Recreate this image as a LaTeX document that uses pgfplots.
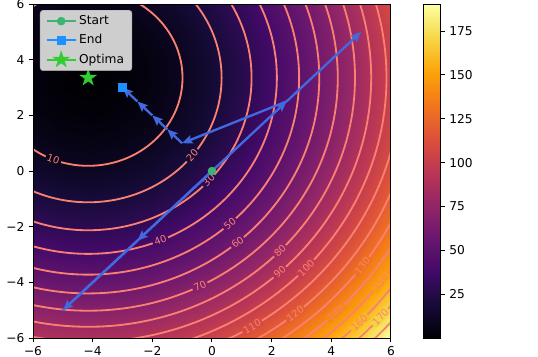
\documentclass[border=0pt]{standalone}
\usepackage{fontspec}
\setmainfont{DejaVu Sans}
\usepackage{pgfplots}
\pgfplotsset{compat=1.18}
\usetikzlibrary{arrows.meta,calc}

\definecolor{salmon}{HTML}{FA8072}
\definecolor{royalblue}{HTML}{4169E1}
\definecolor{mediumseagreen}{HTML}{3CB371}
\definecolor{dodgerblue}{HTML}{1E90FF}
\definecolor{limegreen}{HTML}{32CD32}
% heatmap colour under each contour label (fills the gap in the line)
\definecolor{l10}{RGB}{12,6,32}
\definecolor{l20}{RGB}{24,11,59}
\definecolor{l30}{RGB}{47,10,84}
\definecolor{l40}{RGB}{70,11,105}
\definecolor{l50}{RGB}{91,18,108}
\definecolor{l60}{RGB}{112,25,109}
\definecolor{l70}{RGB}{134,33,105}
\definecolor{l80}{RGB}{155,41,99}
\definecolor{l90}{RGB}{177,50,89}
\definecolor{l100}{RGB}{196,62,78}
\definecolor{l110}{RGB}{214,75,64}
\definecolor{l120}{RGB}{228,93,48}
\definecolor{l130}{RGB}{239,113,31}
\definecolor{l140}{RGB}{246,136,20}
\definecolor{l150}{RGB}{251,159,12}
\definecolor{l160}{RGB}{250,185,34}
\definecolor{l170}{RGB}{246,211,66}

% filled five-pointed star
\pgfdeclareplotmark{fstar}{%
  \pgfpathmoveto{\pgfpointpolar{90}{\pgfplotmarksize}}%
  \pgfpathlineto{\pgfpointpolar{126}{0.382\pgfplotmarksize}}%
  \pgfpathlineto{\pgfpointpolar{162}{\pgfplotmarksize}}%
  \pgfpathlineto{\pgfpointpolar{198}{0.382\pgfplotmarksize}}%
  \pgfpathlineto{\pgfpointpolar{234}{\pgfplotmarksize}}%
  \pgfpathlineto{\pgfpointpolar{270}{0.382\pgfplotmarksize}}%
  \pgfpathlineto{\pgfpointpolar{306}{\pgfplotmarksize}}%
  \pgfpathlineto{\pgfpointpolar{342}{0.382\pgfplotmarksize}}%
  \pgfpathlineto{\pgfpointpolar{18}{\pgfplotmarksize}}%
  \pgfpathlineto{\pgfpointpolar{54}{0.382\pgfplotmarksize}}%
  \pgfpathclose
  \pgfusepathqfillstroke}

\pgfplotsset{
  colormap={inferno}{rgb255=(0,0,4) rgb255=(22,11,57) rgb255=(66,10,104)
    rgb255=(106,23,110) rgb255=(147,38,103) rgb255=(188,55,84) rgb255=(221,81,58)
    rgb255=(243,120,25) rgb255=(252,165,10) rgb255=(246,215,70) rgb255=(252,255,164)},
  /pgf/number format/assume math mode=true,
}

\tikzset{lab/.style={text=salmon, font=\fontsize{8}{9}\selectfont, inner xsep=1.5pt, inner ysep=0.3pt}}

\begin{document}
\begin{tikzpicture}
\begin{axis}[
    name=main,
    scale only axis,
    width=293.4pt, height=273.8pt,
    xmin=-6, xmax=6, ymin=-6, ymax=6,
    enlargelimits=false,
    axis on top,
    colormap name=inferno,
    xtick={-6,-4,-2,0,2,4,6},
    xticklabels={−6,−4,−2,0,2,4,6},
    ytick={-6,-4,-2,0,2,4,6},
    yticklabels={−6,−4,−2,0,2,4,6},
    tick pos=left,
    tick align=outside,
    major tick length=3.5pt,
    tick style={black, line width=0.8pt},
    axis line style={line width=0.8pt},
    colorbar,
    colorbar style={
        at={(main.north east)}, anchor=north west, xshift=18pt,
        scale only axis, width=14.2pt, height=273.8pt,
        ytick={25,50,75,100,125,150,175},
        ytick pos=right, yticklabel pos=right,
        tick align=outside, major tick length=3.5pt,
        tick style={black, line width=0.8pt},
        axis line style={line width=0.8pt},
    },
    legend style={at={(0,1)}, anchor=north west, xshift=5.7pt, yshift=-4.9pt,
        fill={rgb,255:red,206;green,206;blue,207}, draw={rgb,255:red,170;green,170;blue,170},
        rounded corners=2.5pt, inner xsep=4.5pt, inner ysep=2.5pt, row sep=2.5pt,
        font=\fontsize{10}{12}\selectfont},
    legend cell align=left,
    legend image code/.code={
        \draw[mark repeat=2, mark phase=2] plot coordinates {(0cm,0cm) (0.42cm,0cm) (0.84cm,0cm)};
    },
]

% objective on a unit grid, f = (x+4.15)^2 + (y-3.35)^2
\addplot[surf, shader=interp, forget plot, point meta=explicit, mesh/rows=13, mesh/cols=13] coordinates {
(-6,-6)[90.8] (-5,-6)[88.1] (-4,-6)[87.4] (-3,-6)[88.7] (-2,-6)[92.0] (-1,-6)[97.3] (0,-6)[104.6] (1,-6)[113.9] (2,-6)[125.2] (3,-6)[138.5] (4,-6)[153.8] (5,-6)[171.1] (6,-6)[190.4]
(-6,-5)[73.1] (-5,-5)[70.4] (-4,-5)[69.7] (-3,-5)[71.0] (-2,-5)[74.3] (-1,-5)[79.6] (0,-5)[86.9] (1,-5)[96.2] (2,-5)[107.5] (3,-5)[120.8] (4,-5)[136.1] (5,-5)[153.4] (6,-5)[172.7]
(-6,-4)[57.4] (-5,-4)[54.7] (-4,-4)[54.0] (-3,-4)[55.3] (-2,-4)[58.6] (-1,-4)[63.9] (0,-4)[71.2] (1,-4)[80.5] (2,-4)[91.8] (3,-4)[105.1] (4,-4)[120.4] (5,-4)[137.7] (6,-4)[157.0]
(-6,-3)[43.7] (-5,-3)[41.0] (-4,-3)[40.3] (-3,-3)[41.6] (-2,-3)[44.9] (-1,-3)[50.2] (0,-3)[57.5] (1,-3)[66.8] (2,-3)[78.1] (3,-3)[91.4] (4,-3)[106.7] (5,-3)[124.0] (6,-3)[143.3]
(-6,-2)[32.0] (-5,-2)[29.3] (-4,-2)[28.6] (-3,-2)[29.9] (-2,-2)[33.2] (-1,-2)[38.5] (0,-2)[45.8] (1,-2)[55.1] (2,-2)[66.4] (3,-2)[79.7] (4,-2)[95.0] (5,-2)[112.3] (6,-2)[131.6]
(-6,-1)[22.3] (-5,-1)[19.6] (-4,-1)[18.9] (-3,-1)[20.2] (-2,-1)[23.5] (-1,-1)[28.8] (0,-1)[36.1] (1,-1)[45.4] (2,-1)[56.7] (3,-1)[70.0] (4,-1)[85.3] (5,-1)[102.6] (6,-1)[121.9]
(-6,0)[14.6] (-5,0)[11.9] (-4,0)[11.2] (-3,0)[12.5] (-2,0)[15.8] (-1,0)[21.1] (0,0)[28.4] (1,0)[37.7] (2,0)[49.0] (3,0)[62.3] (4,0)[77.6] (5,0)[94.9] (6,0)[114.2]
(-6,1)[8.9] (-5,1)[6.2] (-4,1)[5.5] (-3,1)[6.8] (-2,1)[10.1] (-1,1)[15.4] (0,1)[22.7] (1,1)[32.0] (2,1)[43.3] (3,1)[56.6] (4,1)[71.9] (5,1)[89.2] (6,1)[108.5]
(-6,2)[5.2] (-5,2)[2.5] (-4,2)[1.8] (-3,2)[3.1] (-2,2)[6.4] (-1,2)[11.7] (0,2)[19.0] (1,2)[28.3] (2,2)[39.6] (3,2)[52.9] (4,2)[68.2] (5,2)[85.5] (6,2)[104.8]
(-6,3)[3.5] (-5,3)[0.8] (-4,3)[0.1] (-3,3)[1.4] (-2,3)[4.7] (-1,3)[10.0] (0,3)[17.3] (1,3)[26.6] (2,3)[37.9] (3,3)[51.2] (4,3)[66.5] (5,3)[83.8] (6,3)[103.1]
(-6,4)[3.8] (-5,4)[1.1] (-4,4)[0.4] (-3,4)[1.7] (-2,4)[5.0] (-1,4)[10.3] (0,4)[17.6] (1,4)[26.9] (2,4)[38.2] (3,4)[51.5] (4,4)[66.8] (5,4)[84.1] (6,4)[103.4]
(-6,5)[6.1] (-5,5)[3.4] (-4,5)[2.7] (-3,5)[4.0] (-2,5)[7.3] (-1,5)[12.6] (0,5)[19.9] (1,5)[29.2] (2,5)[40.5] (3,5)[53.8] (4,5)[69.1] (5,5)[86.4] (6,5)[105.7]
(-6,6)[10.4] (-5,6)[7.7] (-4,6)[7.0] (-3,6)[8.3] (-2,6)[11.6] (-1,6)[16.9] (0,6)[24.2] (1,6)[33.5] (2,6)[44.8] (3,6)[58.1] (4,6)[73.4] (5,6)[90.7] (6,6)[110.0]
};

% contour levels 10..180 (radius = sqrt(level))
\pgfplotsinvokeforeach{3.162,4.472,5.477,6.325,7.071,7.746,8.367,8.944,9.487,10.0,10.488,10.954,11.402,11.832,12.247,12.649,13.038,13.416}{
  \draw[salmon, line width=1.5pt] (axis cs:-4.15,3.35) ellipse [x radius=#1, y radius=#1];
}

\node[lab, fill=l10, rotate=-20] at (axis cs:-5.32,0.41) {10};
\node[lab, fill=l20, rotate=49] at (axis cs:-0.66,0.56) {20};
\node[lab, fill=l30, rotate=46] at (axis cs:-0.11,-0.34) {30};
\node[lab, fill=l40, rotate=21] at (axis cs:-1.73,-2.49) {40};
\node[lab, fill=l50, rotate=40] at (axis cs:0.60,-1.89) {50};
\node[lab, fill=l60, rotate=38] at (axis cs:0.86,-2.56) {60};
\node[lab, fill=l70, rotate=25] at (axis cs:-0.40,-4.13) {70};
\node[lab, fill=l80, rotate=44] at (axis cs:2.28,-2.86) {80};
\node[lab, fill=l90, rotate=41] at (axis cs:2.27,-3.63) {90};
\node[lab, fill=l100, rotate=45] at (axis cs:3.16,-3.48) {100};
\node[lab, fill=l110, rotate=30] at (axis cs:1.35,-5.58) {110};
\node[lab, fill=l120, rotate=37] at (axis cs:2.79,-5.13) {120};
\node[lab, fill=l130, rotate=52] at (axis cs:5.04,-3.40) {130};
\node[lab, fill=l140, rotate=42] at (axis cs:4.15,-5.09) {140};
\node[lab, fill=l150, rotate=51] at (axis cs:5.65,-4.00) {150};
\node[lab, fill=l160, rotate=44] at (axis cs:4.94,-5.45) {160};
\node[lab, fill=l170, rotate=47] at (axis cs:5.65,-5.25) {170};

% optimisation path, one arrow per step
\addplot[forget plot, no markers, royalblue, line width=1.9pt,
    -{Stealth[length=8.5pt, width=7pt, inset=1.5pt]},
    quiver={u=\thisrow{u}, v=\thisrow{v}}] table {
x y u v
0 0 -2.5 -2.5
-2.5 -2.5 -2.5 -2.5
-5 -5 7.5 7.5
2.5 2.5 2.5 2.5
2.5 2.5 -3.5 -1.5
-1 1 -0.5 0.5
-1.5 1.5 -0.5 0.5
-2 2 -0.5 0.5
-2.5 2.5 -0.5 0.5
};

\addplot[mediumseagreen, line width=1.5pt, mark=*, mark size=3.3pt, mark options={solid, line width=0.4pt}] coordinates {(0,0)};
\addlegendentry{Start}
\addplot[dodgerblue, line width=1.5pt, mark=square*, mark size=3.4pt, mark options={solid, line width=0.4pt}] coordinates {(-3,3)};
\addlegendentry{End}
\addplot[limegreen, line width=1.5pt, mark=fstar, mark size=7pt, mark options={solid, line width=0.4pt}] coordinates {(-4.15,3.35)};
\addlegendentry{Optima}
\end{axis}
\pgfresetboundingbox
\path[use as bounding box] ($(main.south west)+(-27.05pt,-14.75pt)$) rectangle ($(main.south west)+(413.9pt,277.1pt)$);
\end{tikzpicture}
\end{document}
